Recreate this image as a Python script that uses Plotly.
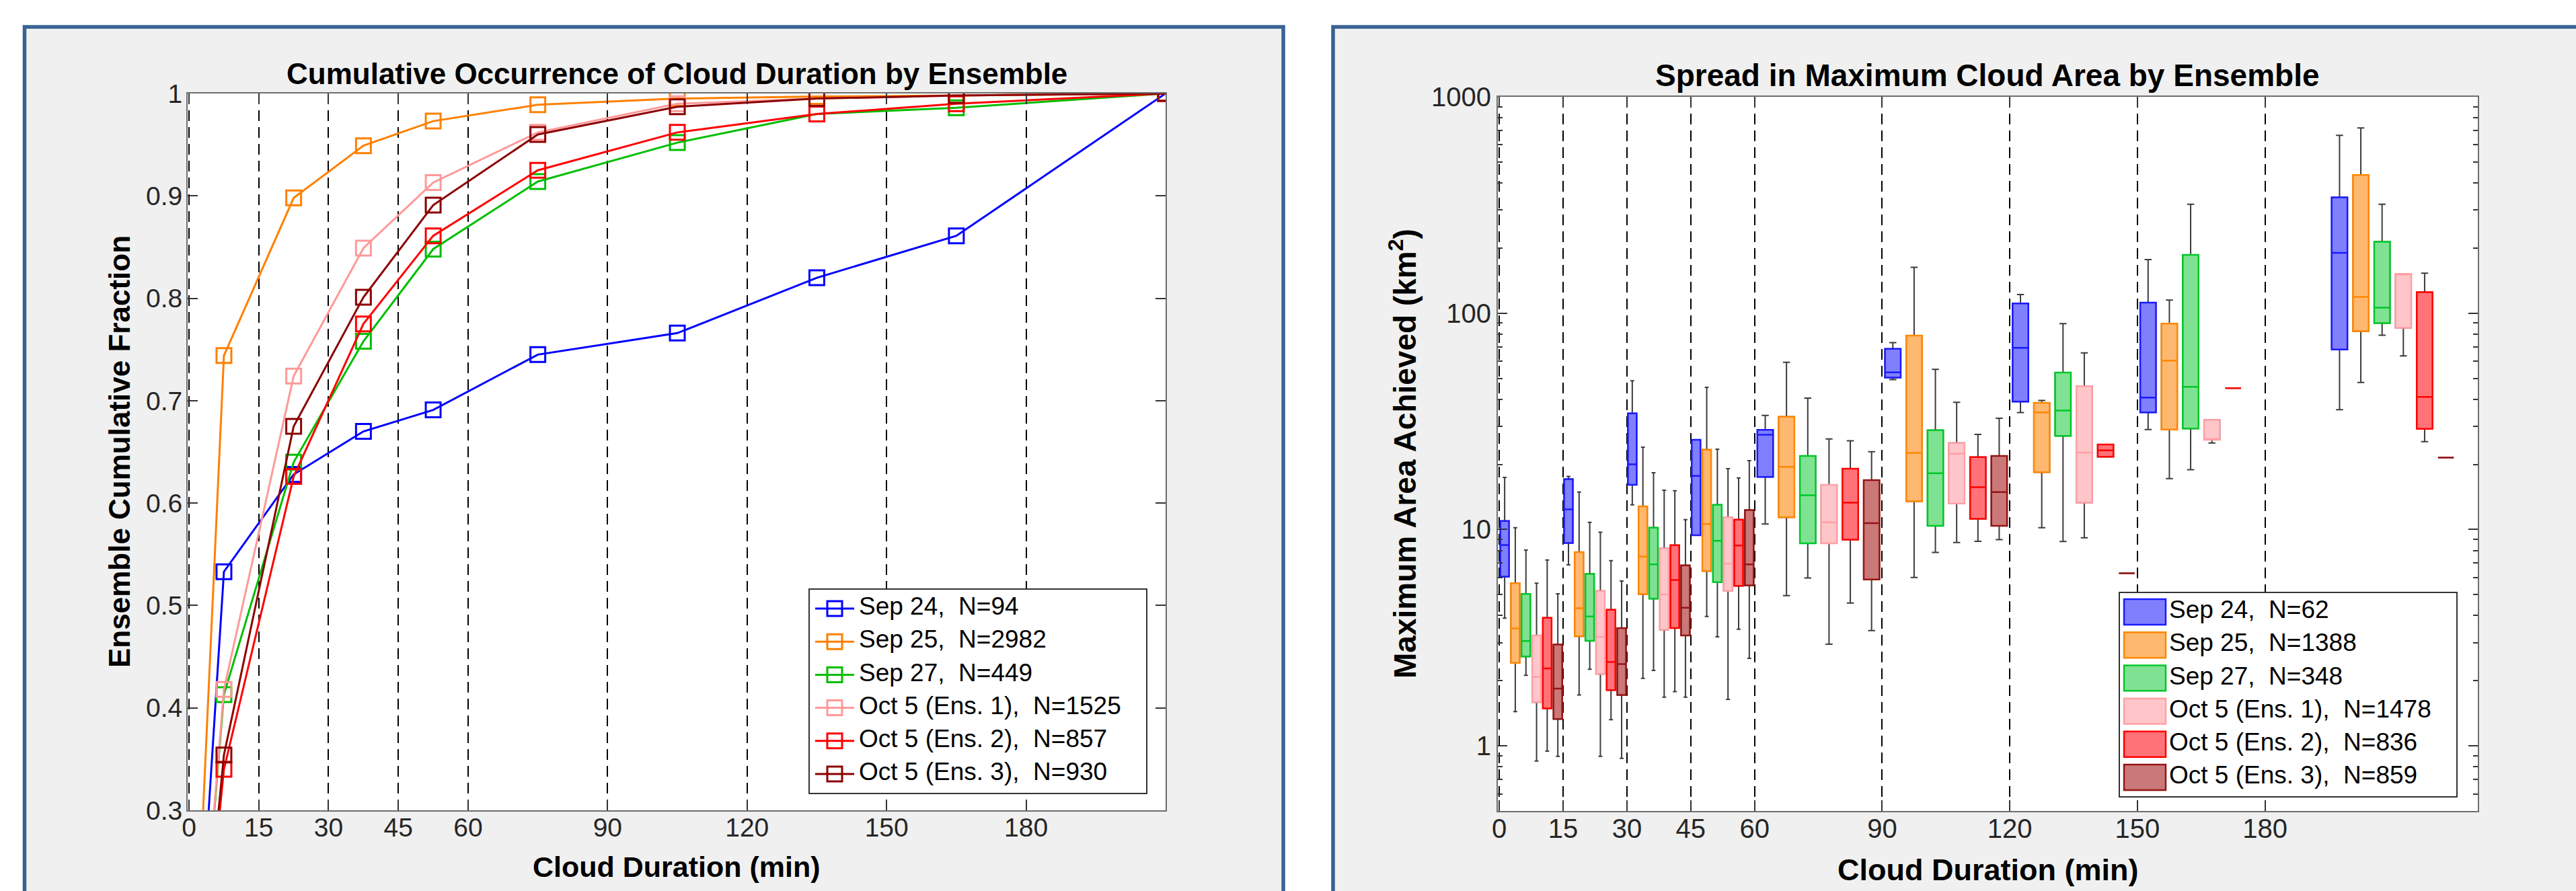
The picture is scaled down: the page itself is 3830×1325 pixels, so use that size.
import plotly.graph_objects as go

W, H = 3830, 1325

# ---------------- data: cumulative occurrence (left) ----------------
durations = [0, 7.5, 22.5, 37.5, 52.5, 75, 105, 135, 165, 210]
cum_sep24 = [0, 0.533, 0.628, 0.670, 0.691, 0.745, 0.766, 0.820, 0.861, 1.0]
cum_sep25 = [0, 0.744, 0.898, 0.949, 0.973, 0.989, 0.995, 0.997, 0.998, 1.0]
cum_sep27 = [0, 0.413, 0.640, 0.758, 0.848, 0.914, 0.952, 0.980, 0.986, 1.0]
cum_oct5_e1 = [0, 0.418, 0.724, 0.849, 0.913, 0.962, 0.990, 0.995, 0.998, 1.0]
cum_oct5_e2 = [0, 0.340, 0.626, 0.775, 0.861, 0.925, 0.962, 0.980, 0.990, 1.0]
cum_oct5_e3 = [0, 0.354, 0.675, 0.801, 0.891, 0.960, 0.987, 0.995, 0.998, 1.0]

ens_names = ["Sep 24", "Sep 25", "Sep 27", "Oct 5 (Ens. 1)", "Oct 5 (Ens. 2)", "Oct 5 (Ens. 3)"]
n_left = [94, 2982, 449, 1525, 857, 930]
n_right = [62, 1388, 348, 1478, 836, 859]

# ---------------- data: max area box statistics (right) ----------------
group_centers = [7.5, 22.5, 37.5, 52.5, 75, 105, 135, 165, 210]
group_spacing = [2.5, 2.5, 2.5, 2.5, 5, 5, 5, 5, 5]
# each entry: (lower whisker, q1, median, q3, upper whisker) per duration bin; None = no clouds
box_sep24 = [(3.89, 6.06, 8.48, 10.96, 17.4), (6.86, 8.66, 12.4, 17.1, 17.6), (13.0, 16.1, 20.0, 34.4, 48.7),
             (9.41, 9.41, 17.7, 26.0, 26.0), (10.6, 17.5, 27.4, 28.9, 33.7), (49.3, 50.4, 53.3, 68.4, 73.1),
             (34.7, 39.0, 69.2, 111, 122), (29.0, 34.8, 40.7, 112, 177), (35.8, 67.9, 190, 343, 664)]
box_sep25 = [(1.44, 2.42, 3.49, 5.65, 10.2), (1.72, 3.21, 4.33, 7.86, 14.9), (2.05, 5.03, 7.5, 12.8, 24.0),
             (3.96, 6.42, 10.6, 23.4, 45.4), (4.95, 11.4, 19.5, 33.2, 59.3), (6.0, 13.5, 22.6, 78.8, 163),
             (10.2, 18.4, 34.8, 38.5, 39.5), (17.2, 29.0, 60.4, 89.4, 115), (47.8, 82.5, 119, 435, 718)]
box_sep27 = [(2.12, 2.59, 3.05, 5.04, 8.03), (2.26, 3.06, 3.96, 6.23, 10.8), (2.23, 4.79, 6.9, 10.2, 18.3),
             (3.19, 5.71, 8.86, 13.0, 23.5), (5.97, 8.63, 14.4, 21.9, 40.5), (7.84, 10.4, 18.2, 28.8, 55.0),
             (8.8, 27.1, 35.5, 53.2, 89.4), (18.9, 29.3, 45.7, 186, 319), (79.1, 89.9, 106, 214, 319)]
box_oct5_e1 = [(0.85, 1.59, 2.08, 3.24, 5.65), (0.894, 2.15, 3.19, 5.2, 9.72), (1.68, 3.44, 5.01, 8.18, 15.2),
               (1.64, 5.2, 6.95, 11.4, 19.1), (2.95, 8.63, 10.8, 16.1, 26.2), (8.71, 13.2, 22.4, 25.1, 38.7),
               (9.15, 13.3, 22.7, 46.0, 65.5), (25.1, 26.0, 26.0, 32.1, 32.1), (63.5, 85.5, 152, 152, 152)]
box_oct5_e2 = [(0.946, 1.49, 2.28, 3.91, 7.23), (1.32, 1.81, 2.44, 4.26, 7.18), (1.78, 3.5, 5.84, 8.46, 15.1),
               (3.46, 5.49, 8.43, 11.1, 17.3), (4.57, 8.98, 13.3, 19.1, 25.7), (8.82, 11.2, 15.7, 21.6, 27.5),
               (21.7, 21.7, 23.2, 24.7, 24.7), (45.0, 45.0, 45.0, 45.0, 45.0), (25.5, 29.2, 41.0, 125, 153)]
box_oct5_e3 = [(0.894, 1.33, 1.84, 2.94, 5.05), (0.876, 1.72, 2.39, 3.5, 5.78), (1.68, 3.24, 4.35, 6.83, 11.1),
               (2.54, 5.52, 6.9, 12.3, 20.8), (3.41, 5.87, 10.7, 16.9, 22.9), (8.98, 10.4, 14.9, 21.9, 32.7),
               (6.28, 6.28, 6.28, 6.28, 6.28), None, (21.5, 21.5, 21.5, 21.5, 21.5)]

x_tickvals = [0, 15, 30, 45, 60, 90, 120, 150, 180]
y_left_ticks = [0.3, 0.4, 0.5, 0.6, 0.7, 0.8, 0.9, 1.0]
y_right_ticks = [1, 10, 100, 1000]
y_right_minor = [0.5, 0.6, 0.7, 0.8, 0.9, 2, 3, 4, 5, 6, 7, 8, 9, 20, 30, 40, 50, 60, 70, 80, 90,
                 200, 300, 400, 500, 600, 700, 800, 900]

cum_series = [cum_sep24, cum_sep25, cum_sep27, cum_oct5_e1, cum_oct5_e2, cum_oct5_e3]
box_series = [box_sep24, box_sep25, box_sep27, box_oct5_e1, box_oct5_e2, box_oct5_e3]

# ---------------- styles ----------------
line_colors = ["#0000FF", "#FF8000", "#00BE00", "#FF9999", "#FF0000", "#8C0000"]
box_fill = ["#8080FF", "#FFB870", "#7FE292", "#FFC6CA", "#FF7378", "#CB7878"]
box_edge = ["#1A1AFF", "#FF8700", "#00C828", "#FFA0A5", "#FF0000", "#961414"]
FONT = "Liberation Sans"
TICKCOL = "#262626"


def pxx(p):
    return p / W


def pxy(p):
    return 1 - p / H


fig = go.Figure()

# ---------------- left: cumulative lines ----------------
for k in range(6):
    fig.add_trace(go.Scatter(
        x=durations, y=cum_series[k], mode="lines+markers",
        line=dict(color=line_colors[k], width=3),
        marker=dict(symbol="square-open", size=22, color=line_colors[k], line=dict(width=3)),
        xaxis="x", yaxis="y", showlegend=False, hoverinfo="skip"))

# ---------------- right: box plots ----------------
for k in range(6):
    for idxs, bw in (([0, 1, 2, 3], 2.05), ([4, 5, 6, 7, 8], 3.7)):
        xs, lo, q1, md, q3, hi = [], [], [], [], [], []
        for g in idxs:
            st = box_series[k][g]
            if st is None:
                continue
            xs.append(group_centers[g] + (k - 2.5) * group_spacing[g])
            lo.append(st[0]); q1.append(st[1]); md.append(st[2]); q3.append(st[3]); hi.append(st[4])
        # whiskers (dark grey)
        fig.add_trace(go.Box(
            x=xs, lowerfence=lo, q1=q1, median=md, q3=q3, upperfence=hi,
            orientation="v", width=bw, whiskerwidth=0.45, boxpoints=False,
            line=dict(color="#3C3C3C", width=2), fillcolor="rgba(0,0,0,0)",
            xaxis="x2", yaxis="y2", showlegend=False, hoverinfo="skip"))
        # coloured box
        fig.add_trace(go.Box(
            x=xs, lowerfence=q1, q1=q1, median=md, q3=q3, upperfence=q3,
            orientation="v", width=bw, whiskerwidth=0, boxpoints=False,
            line=dict(color=box_edge[k], width=2.5), fillcolor=box_fill[k],
            xaxis="x2", yaxis="y2", showlegend=False, hoverinfo="skip"))

# ---------------- custom legends ----------------
rows = list(range(6))
labels_left = [f"{n},\u00a0 N={c}" for n, c in zip(ens_names, n_left)]
labels_right = [f"{n},\u00a0 N={c}" for n, c in zip(ens_names, n_right)]

for k in range(6):
    fig.add_trace(go.Scatter(x=[8, 66], y=[k, k], mode="lines",
                             line=dict(color=line_colors[k], width=3),
                             xaxis="x3", yaxis="y3", showlegend=False, hoverinfo="skip"))
fig.add_trace(go.Scatter(x=[37] * 6, y=rows, mode="markers",
                         marker=dict(symbol="square-open", size=22, color=line_colors, line=dict(width=3)),
                         xaxis="x3", yaxis="y3", showlegend=False, hoverinfo="skip"))
fig.add_trace(go.Scatter(x=[73] * 6, y=rows, mode="text", text=labels_left,
                         textposition="middle right",
                         textfont=dict(family=FONT, size=37, color="black"),
                         xaxis="x3", yaxis="y3", showlegend=False, hoverinfo="skip"))

fig.add_trace(go.Bar(y=rows, x=[62] * 6, base=[6] * 6, orientation="h", width=0.77,
                     marker=dict(color=box_fill, line=dict(color=box_edge, width=2.5)),
                     xaxis="x4", yaxis="y4", showlegend=False, hoverinfo="skip"))
fig.add_trace(go.Scatter(x=[73] * 6, y=rows, mode="text", text=labels_right,
                         textposition="middle right",
                         textfont=dict(family=FONT, size=37, color="black"),
                         xaxis="x4", yaxis="y4", showlegend=False, hoverinfo="skip"))

# ---------------- axes ----------------
common_x = dict(
    tickmode="array", tickvals=x_tickvals, showgrid=True, gridcolor="black", gridwidth=2,
    griddash="16px,9px", zeroline=False, ticks="inside", ticklen=16, tickwidth=1.5,
    tickcolor="#333333", showline=True, linecolor="#6E6E6E", linewidth=2, mirror="ticks",
    ticklabelstandoff=-10, automargin=False)

legend_axis = dict(showgrid=False, zeroline=False, showticklabels=False, ticks="",
                   showline=True, mirror=True, linecolor="#333333", linewidth=2, fixedrange=True,
                   automargin=False)

fig.update_layout(
    width=W, height=H, autosize=False,
    margin=dict(l=0, r=0, t=0, b=0, pad=0, autoexpand=False),
    paper_bgcolor="#F0F0F0", plot_bgcolor="white",
    boxmode="overlay", barmode="overlay",
    showlegend=False,
    xaxis=dict(domain=[pxx(279), pxx(1733)], anchor="y", range=[-0.3, 210],
               tickfont=dict(family=FONT, size=39, color=TICKCOL), **common_x),
    yaxis=dict(domain=[pxy(1205), pxy(139)], anchor="x", range=[0.3, 1.0],
               tickmode="array", tickvals=y_left_ticks, showgrid=False, zeroline=False,
               ticks="inside", ticklen=15, tickwidth=1.5, tickcolor="#333333",
               showline=True, linecolor="#6E6E6E", linewidth=2, mirror="ticks",
               ticklabelstandoff=-2, automargin=False,
               tickfont=dict(family=FONT, size=39, color=TICKCOL)),
    xaxis2=dict(domain=[pxx(2227), pxx(3684)], anchor="y2", range=[-0.35, 230],
                tickfont=dict(family=FONT, size=40, color=TICKCOL), **common_x),
    yaxis2=dict(domain=[pxy(1206), pxy(144)], anchor="x2", type="log", range=[-0.30103, 3],
                tickmode="array", tickvals=y_right_ticks, ticktext=[str(v) for v in y_right_ticks],
                showgrid=False, zeroline=False, ticks="inside", ticklen=14, tickwidth=1.5,
                tickcolor="#333333", showline=True, linecolor="#6E6E6E", linewidth=2,
                mirror="ticks", ticklabelstandoff=0, automargin=False,
                minor=dict(tickmode="array", tickvals=y_right_minor, ticks="inside", ticklen=7,
                           tickwidth=1.5, tickcolor="#333333", showgrid=False),
                tickfont=dict(family=FONT, size=40, color=TICKCOL)),
    xaxis3=dict(domain=[pxx(1204), pxx(1704)], anchor="y3", range=[0, 500], **legend_axis),
    yaxis3=dict(domain=[pxy(1179), pxy(877)], anchor="x3", range=[5.57, -0.57], **legend_axis),
    xaxis4=dict(domain=[pxx(3152), pxx(3652)], anchor="y4", range=[0, 500], **legend_axis),
    yaxis4=dict(domain=[pxy(1184), pxy(882)], anchor="x4", range=[5.57, -0.57], **legend_axis),
)

# ---------------- panels (background frames) ----------------
shapes = []
for x0, x1, y0, y1 in [(0, W, 0, 37.5), (0, 33.5, 0, H), (1911, 1979, 0, H)]:
    shapes.append(dict(type="rect", xref="paper", yref="paper",
                       x0=pxx(x0), x1=pxx(x1), y0=pxy(y1), y1=pxy(y0),
                       fillcolor="white", line=dict(width=0), layer="above"))
for x0, x1 in [(36.5, 1908), (1982, 3900)]:
    shapes.append(dict(type="rect", xref="paper", yref="paper",
                       x0=pxx(x0), x1=pxx(x1), y0=pxy(1420), y1=pxy(40),
                       fillcolor="rgba(0,0,0,0)", line=dict(color="#386393", width=5.5),
                       layer="above"))
fig.update_layout(shapes=shapes)

# ---------------- titles and axis labels ----------------
ann = [
    dict(text="<b>Cumulative Occurrence of Cloud Duration by Ensemble</b>", x=pxx(1006), y=pxy(109),
         font=dict(family=FONT, size=44, color="black")),
    dict(text="<b>Spread in Maximum Cloud Area by Ensemble</b>", x=pxx(2955), y=pxy(112),
         font=dict(family=FONT, size=46, color="black")),
    dict(text="<b>Cloud Duration (min)</b>", x=pxx(1006), y=pxy(1289),
         font=dict(family=FONT, size=43, color="black")),
    dict(text="<b>Cloud Duration (min)</b>", x=pxx(2955), y=pxy(1293),
         font=dict(family=FONT, size=45, color="black")),
    dict(text="<b>Ensemble Cumulative Fraction</b>", x=pxx(178), y=pxy(672), textangle=-90,
         font=dict(family=FONT, size=44, color="black")),
    dict(text="<b>Maximum Area Achieved (km<sup>2</sup>)</b>", x=pxx(2086), y=pxy(675), textangle=-90,
         font=dict(family=FONT, size=46, color="black")),
]
for a in ann:
    a.update(xref="paper", yref="paper", showarrow=False, xanchor="center", yanchor="middle")
fig.update_layout(annotations=ann)

fig.write_html("out.html", config={"displayModeBar": False},
               post_script="document.body.style.margin='0px';document.body.style.overflow='hidden';")
